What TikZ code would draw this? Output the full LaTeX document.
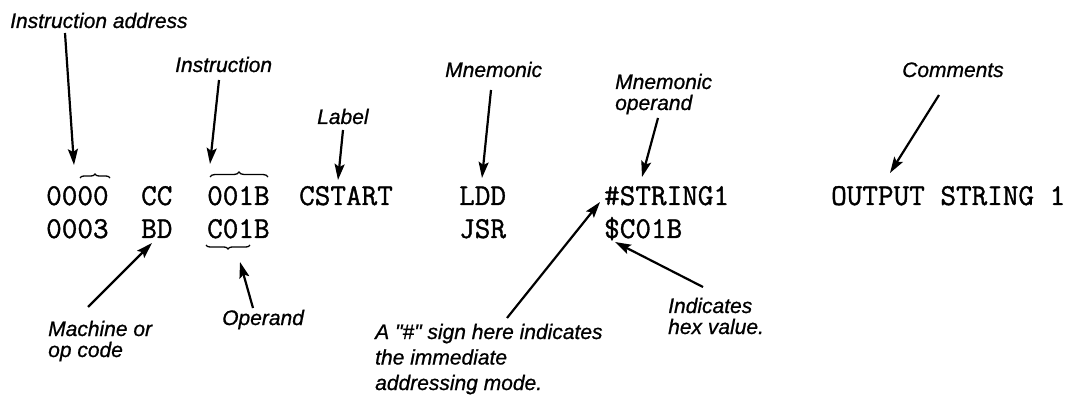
\documentclass[tikz,border=0pt]{standalone}
\usepackage{fontspec}
\newfontfamily\labfont[FakeBold=0.8]{Liberation Sans}
\newfontfamily\codefont[FakeBold=1.2]{Latin Modern Mono}
\usetikzlibrary{arrows.meta,decorations.pathreplacing}
\tikzset{
  lab/.style={anchor=base west,inner sep=0pt,align=left,font=\labfont\itshape\fontsize{21}{21}\selectfont},
  code/.style={anchor=base west,inner sep=0pt,font=\codefont\fontsize{30.3}{32}\selectfont},
  pointer/.style={line width=2.2pt,-{Stealth[length=16pt,width=10pt,inset=3pt]}},
  bracemark/.style={line width=1.3pt,decorate,decoration={brace,amplitude=5pt}}
}
\begin{document}
\begin{tikzpicture}[x=1pt,y=-1pt]
\useasboundingbox (0,0) rectangle (1073,395);
% code rows
\node[code] (a1) at (46,205) {0000};
\node[code] (m1) at (141,205) {CC};
\node[code] (o1) at (207,205) {001B};
\node[code] (l1) at (299,205) {CSTART};
\node[code] (n1) at (459,205) {LDD};
\node[code] (p1) at (604,205) {\#STRING1};
\node[code] (c1) at (831,205) {OUTPUT STRING 1};
\node[code] (a2) at (46,238) {0003};
\node[code] (m2) at (141,238) {BD};
\node[code] (o2) at (207,238) {C01B};
\node[code] (n2) at (459,238) {JSR};
\node[code] (p2) at (604,238) {\$C01B};
% labels (base anchor = baseline of last line)
\node[lab] (addr) at (10,28) {Instruction address};
\node[lab] (instr) at (175,72) {Instruction};
\node[lab] (label) at (317,124) {Label};
\node[lab] (mnem) at (445,77) {Mnemonic};
\node[lab] (mop) at (615,110) {Mnemonic\\operand};
\node[lab] (comm) at (902,77) {Comments};
\node[lab] (mach) at (48,357) {Machine or\\op code};
\node[lab] (oper) at (222,325) {Operand};
\node[lab,font=\labfont\itshape\fontsize{21}{25.5}\selectfont] (imm) at (375,390) {A "\#" sign here indicates\\the immediate\\addressing mode.};
\node[lab] (hex) at (668,334) {Indicates\\hex value.};
% arrow end points
\coordinate (addrS) at (65,33);  \coordinate (addrT) at (74,165);
\coordinate (instrS) at (219,80); \coordinate (instrT) at (210,164);
\coordinate (labelS) at (343,130); \coordinate (labelT) at (338,180);
\coordinate (mnemS) at (491,90); \coordinate (mnemT) at (482,178);
\coordinate (mopS) at (658,118); \coordinate (mopT) at (642,177);
\coordinate (commS) at (939,95); \coordinate (commT) at (890,173);
\coordinate (machS) at (88,307); \coordinate (machT) at (152,243);
\coordinate (operS) at (253,308); \coordinate (operT) at (240,262);
\coordinate (immS) at (507,318); \coordinate (immT) at (600,202);
\coordinate (hexS) at (703,287); \coordinate (hexT) at (615,242);
\draw[pointer] (addrS) -- (addrT);
\draw[pointer] (instrS) -- (instrT);
\draw[pointer] (labelS) -- (labelT);
\draw[pointer] (mnemS) -- (mnemT);
\draw[pointer] (mopS) -- (mopT);
\draw[pointer] (commS) -- (commT);
\draw[pointer] (machS) -- (machT);
\draw[pointer] (operS) -- (operT);
\draw[pointer] (immS) -- (immT);
\draw[pointer] (hexS) -- (hexT);
% braces
\coordinate (b1L) at (80,178); \coordinate (b1R) at (110,178);
\coordinate (b2L) at (210,177); \coordinate (b2R) at (268,177);
\coordinate (b3L) at (206,245); \coordinate (b3R) at (250,245);
\draw[bracemark,decoration={brace,amplitude=4pt}] (b1L) -- (b1R);
\draw[bracemark] (b2L) -- (b2R);
\draw[bracemark,decoration={brace,amplitude=4pt,mirror}] (b3L) -- (b3R);
\end{tikzpicture}
\end{document}
